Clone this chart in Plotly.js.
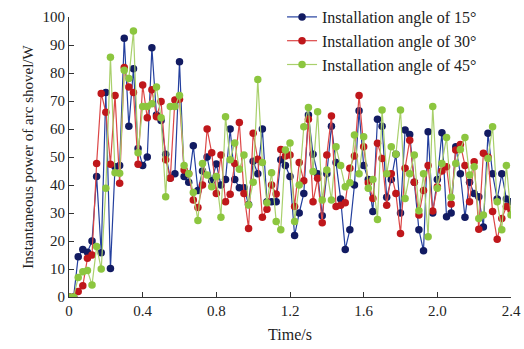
<!DOCTYPE html>
<html>
<head>
<meta charset="utf-8">
<script src="https://cdn.plot.ly/plotly-3.0.1.min.js"></script>
<style>html,body{margin:0;padding:0;background:#fff;}#chart{width:524px;height:349px;}</style>
</head>
<body>
<div id="chart"></div>
<script>
// Sampling step of the simulation output (s)
const timeStep = 0.025;

// Installation angle 15° (W)
const angle15 = [0,0,14.4,17,16,20,43,15.8,73,10.2,46.5,47,92.4,61,81.5,53,47,50,89,65,63,51,42.5,44,84,43,41,54,38,45,
  50,41.5,47.5,40,42,60,42,39,39,33,48.5,44,60,34,34,34,49,47,43,22,30,37,65,51,44,29,44,61,48,35,
  17,24,40,66.5,47,42,30.5,63.5,61,35.6,42,51,30,59.6,58,41,24,16.5,59,30,42,58.7,28.7,30,53.7,44,28.5,41,37,35.8,
  25,58.5,44,35,44,35,34];

// Installation angle 30° (W)
const angle30 = [0,0,2,4,13.8,15,47.7,72.7,66,47.4,72,40.6,82,75,73,47.4,75.7,64,74,64.4,69.8,49,42.4,70.4,70.6,45.4,44,34.6,32,40,
  60,51.5,37,50.7,34,36.7,47.7,62.3,37,24.5,58.5,49.2,28.5,31.3,40,36.8,52.7,50.4,50.7,32.3,48,41.5,63.5,34,42.4,26.5,50.7,64.6,32.3,32.8,
  33.7,46,50.4,72,53.7,40.8,35.2,54.9,49.5,32.8,44,37,22.7,46,56,41,29.3,38,47,30.7,39.4,45,46.5,33.2,52.5,54.5,47,34,48.3,24.2,
  51.3,50,30.5,20.6,28,32.3,31];

// Installation angle 45° (W)
const angle45 = [0,0,7,9,9.5,4.3,18,10,38.8,85.6,44.4,44.2,81,78,95,51.5,68,68,69,75,64,35.8,68,68,72,47,44,37.3,27.3,47.7,
  43.6,39.4,43,28.5,64.4,49,55,45.6,50.7,32.9,41,77.7,48,33.7,44.4,27,24,52.5,55,27,40,60.8,67.7,44.8,66.2,34.6,45.4,34.6,53.7,47,
  39.4,40.8,57.9,44,57.2,38.8,42,27.7,66.8,44,53.7,51,66.8,35.2,44,50.7,30.8,44,21.5,68,38.8,47.7,57,35.6,47.7,52.7,57,43.6,46.5,28,
  29.3,49.5,60.8,34,24,47,29.3];

const seriesNames = ["Installation angle of 15°", "Installation angle of 30°", "Installation angle of 45°"];
const xTickVals = [0, 0.4, 0.8, 1.2, 1.6, 2.0, 2.4];
const xTickText = ["0", "0.4", "0.8", "1.2", "1.6", "2.0", "2.4"];
const yTickVals = [0,10,20,30,40,50,60,70,80,90,100];

const time = angle15.map((_, i) => +(i * timeStep).toFixed(3));

const styles = [
  {line: "#233f9e", marker: "#121b62"},
  {line: "#dc4646", marker: "#bf171b"},
  {line: "#a9d06c", marker: "#8cc63f"}
];

const traces = [angle15, angle30, angle45].map((vals, i) => ({
  x: time,
  y: vals,
  type: "scatter",
  mode: "lines+markers",
  name: seriesNames[i],
  line: {color: styles[i].line, width: 1.2},
  marker: {color: styles[i].marker, size: 7.5}
}));

const font = "Liberation Serif, Times New Roman, serif";

const layout = {
  width: 524, height: 349,
  margin: {l: 69, r: 13, t: 0, b: 52},
  paper_bgcolor: "#fff", plot_bgcolor: "#fff",
  font: {family: font, size: 15, color: "#222"},
  showlegend: true,
  legend: {
    x: 0.482, xanchor: "left",
    y: 1.0, yanchor: "top",
    bgcolor: "rgba(0,0,0,0)", font: {family: font, size: 16, color: "#222"},
    tracegroupgap: 0
  },
  xaxis: {
    range: [0, 2.4], tickvals: xTickVals, ticktext: xTickText,
    ticks: "inside", ticklen: 5, tickcolor: "#333",
    showline: true, linecolor: "#333", linewidth: 1,
    showgrid: false, zeroline: false,
    tickfont: {family: font, size: 15, color: "#222"},
    title: {text: "Time/s", font: {family: font, size: 16, color: "#222"}, standoff: 10}
  },
  yaxis: {
    domain: [0, 280 / 297],
    range: [0, 100], tickvals: yTickVals,
    ticks: "inside", ticklen: 5, tickcolor: "#333",
    showline: true, linecolor: "#333", linewidth: 1,
    showgrid: false, zeroline: false,
    tickfont: {family: font, size: 15, color: "#222"},
    title: {text: "Instantaneous power of arc shovel/W", font: {family: font, size: 15, color: "#222"}, standoff: 5}
  }
};

Plotly.newPlot("chart", traces, layout, {displayModeBar: false, staticPlot: true});
</script>
</body>
</html>
